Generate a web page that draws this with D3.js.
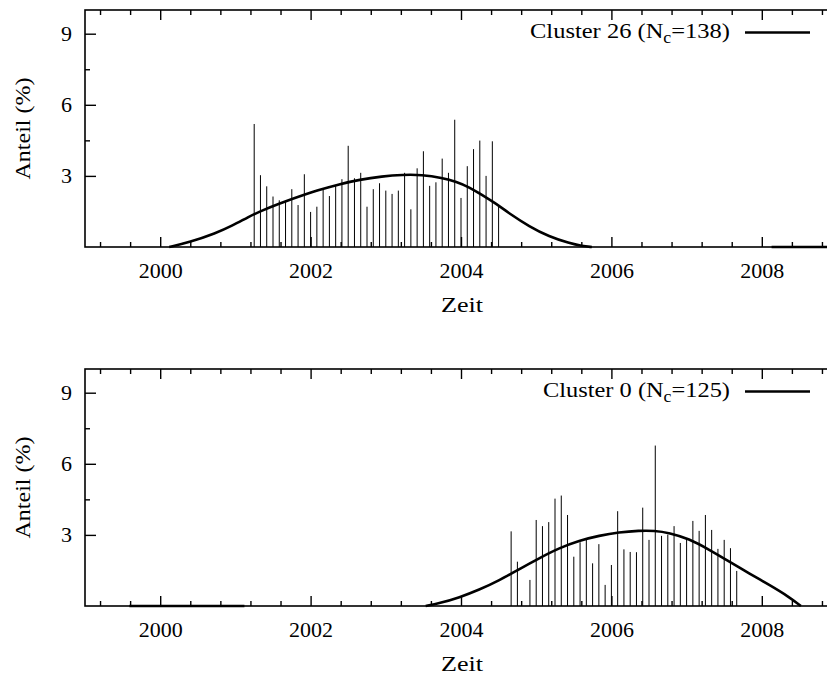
<!DOCTYPE html>
<html>
<head>
<meta charset="utf-8">
<script src="https://cdn.jsdelivr.net/npm/d3@7"></script>
<style>
  body { margin: 0; background: #fff; }
  svg { display: block; }
  text { font-family: "Liberation Serif", "Times New Roman", serif; fill: #000; }
  .tick text { font-size: 22px; }
  .tick line { stroke: #000; stroke-width: 1.4; }
</style>
</head>
<body>
<div id="chart"></div>
<script>
// monthly shares, top panel starts Apr 2001, bottom panel starts Sep 2004
var topStart = 2001.25;
var topValues = [5.19, 3.03, 2.56, 2.13, 1.97, 1.96, 2.44, 1.77, 3.07, 1.48,
                 1.70, 2.44, 2.15, 2.58, 2.86, 4.27, 2.90, 3.13, 1.70, 2.44,
                 2.69, 2.38, 2.24, 2.38, 3.13, 1.59, 3.32, 4.04, 2.58, 2.73,
                 3.73, 3.13, 5.37, 2.07, 3.41, 4.13, 4.49, 3.00, 4.46, 1.69];
var bottomStart = 2004 + 8 / 12;
var bottomValues = [3.15, 1.87, 0, 1.10, 3.63, 3.37, 3.54, 4.53, 4.66, 3.84,
                    2.08, 2.69, 2.82, 1.80, 2.61, 0.89, 1.73, 4.00, 2.39, 2.28,
                    2.27, 4.15, 2.79, 6.77, 2.96, 3.01, 3.37, 2.66, 2.79, 3.59,
                    3.17, 3.84, 3.21, 2.41, 2.79, 2.44, 1.48];

// smoothed curves [year, value]
var topCurve = [[2000.12, 0], [2000.12, 0], [2000.39, 0.2], [2000.74, 0.58], [2000.96, 0.9],
                [2001.18, 1.28], [2001.32, 1.49], [2001.58, 1.83], [2001.85, 2.13],
                [2002.11, 2.41], [2002.38, 2.65], [2002.65, 2.84], [2002.95, 2.98],
                [2003.22, 3.05], [2003.48, 3.05], [2003.75, 2.92], [2003.94, 2.75],
                [2004.11, 2.52], [2004.28, 2.20], [2004.47, 1.82], [2004.64, 1.42],
                [2004.91, 0.86], [2005.17, 0.44], [2005.44, 0.16], [2005.61, 0.04],
                [2005.74, 0], [2005.74, 0]];
var topCurveTail = [[2008.13, 0], [2009, 0]];
var bottomCurve = [[2003.53, 0], [2003.53, 0], [2003.71, 0.11], [2003.98, 0.36], [2004.24, 0.68],
                   [2004.51, 1.08], [2004.77, 1.55], [2005.04, 2.02], [2005.31, 2.45],
                   [2005.57, 2.76], [2005.84, 2.97], [2006.10, 3.11], [2006.37, 3.18],
                   [2006.57, 3.18], [2006.77, 3.09], [2007.03, 2.84], [2007.30, 2.38],
                   [2007.57, 1.87], [2007.83, 1.38], [2008.10, 0.89], [2008.36, 0.39],
                   [2008.52, 0], [2008.52, 0]];
var bottomCurveTail = [[1999.59, 0], [2001.12, 0]];

var xTicks = [2000, 2002, 2004, 2006, 2008];
var yTicks = [3, 6, 9];
var yMinorTicks = [4.5, 7.5];

var width = 827, height = 675;
var margin = {left: 85, right: -10};

var svg = d3.select("#chart").append("svg")
    .attr("width", width)
    .attr("height", height);

var x = d3.scaleLinear()
    .domain([1999, 2009])
    .range([margin.left, width - margin.right]);

var xMinor = d3.range(1999.2, 2009, 0.4).filter(function(d) {
  return xTicks.every(function(t) { return Math.abs(t - d) > 0.01; });
});

function drawPanel(top, values, start, curve, tail, name, n) {
  var bottom = top + 237;
  var y = d3.scaleLinear().domain([0, 10]).range([bottom, top]);
  var g = svg.append("g");

  // impulses
  g.selectAll(".bar")
    .data(values)
    .enter().append("line")
      .attr("x1", function(d, i) { return x(start + i / 12); })
      .attr("x2", function(d, i) { return x(start + i / 12); })
      .attr("y1", y(0))
      .attr("y2", function(d) { return y(d); })
      .attr("stroke", "#000")
      .attr("stroke-width", 1);

  // smoothed line
  var line = d3.line()
      .x(function(d) { return x(d[0]); })
      .y(function(d) { return y(d[1]); })
      .curve(d3.curveBasis);
  [curve, tail].forEach(function(c) {
    g.append("path")
      .attr("d", line(c))
      .attr("fill", "none")
      .attr("stroke", "#000")
      .attr("stroke-width", 2.6);
  });

  // bottom axis, ticks pointing up
  g.append("g")
      .attr("transform", "translate(0," + bottom + ")")
      .call(d3.axisBottom(x).tickValues(xTicks).tickSize(-10).tickPadding(15).tickFormat(d3.format("d")))
      .call(function(a) { a.select(".domain").remove(); });
  g.append("g")
      .attr("transform", "translate(0," + bottom + ")")
      .call(d3.axisBottom(x).tickValues(xMinor).tickSize(-5).tickFormat(""))
      .call(function(a) { a.select(".domain").remove(); });

  // mirrored top ticks
  g.append("g")
      .attr("transform", "translate(0," + top + ")")
      .call(d3.axisTop(x).tickValues(xTicks).tickSize(-10).tickFormat(""))
      .call(function(a) { a.select(".domain").remove(); });
  g.append("g")
      .attr("transform", "translate(0," + top + ")")
      .call(d3.axisTop(x).tickValues(xMinor).tickSize(-5).tickFormat(""))
      .call(function(a) { a.select(".domain").remove(); });

  // left axis
  g.append("g")
      .attr("transform", "translate(" + margin.left + ",0)")
      .call(d3.axisLeft(y).tickValues(yTicks).tickSize(-11).tickPadding(13))
      .call(function(a) { a.select(".domain").remove(); });
  g.append("g")
      .attr("transform", "translate(" + margin.left + ",0)")
      .call(d3.axisLeft(y).tickValues(yMinorTicks).tickSize(-5).tickFormat(""))
      .call(function(a) { a.select(".domain").remove(); });

  g.selectAll(".tick text").attr("fill", "#000");

  // frame
  g.append("rect")
      .attr("x", margin.left)
      .attr("y", top)
      .attr("width", x(2009) - margin.left)
      .attr("height", bottom - top)
      .attr("fill", "none")
      .attr("stroke", "#000")
      .attr("stroke-width", 1.6);

  // axis titles
  g.append("text")
      .attr("x", 441)
      .attr("y", bottom + 65)
      .attr("font-size", 22)
      .attr("textLength", 42)
      .attr("lengthAdjust", "spacingAndGlyphs")
      .text("Zeit");
  g.append("text")
      .attr("transform", "translate(30," + ((top + bottom) / 2 + 51) + ") rotate(-90)")
      .attr("font-size", 22)
      .attr("textLength", 102)
      .attr("lengthAdjust", "spacingAndGlyphs")
      .text("Anteil (%)");

  // key
  var label = "Cluster " + name + " (N";
  var keyWidth = name === "26" ? 200 : 187;
  var key = g.append("text")
      .attr("x", 730 - keyWidth)
      .attr("y", top + 28)
      .attr("font-size", 22)
      .attr("textLength", keyWidth)
      .attr("lengthAdjust", "spacingAndGlyphs");
  key.append("tspan").text(label);
  key.append("tspan").attr("dy", 5).attr("font-size", 16).text("c");
  key.append("tspan").attr("dy", -5).text("=" + n + ")");
  g.append("line")
      .attr("x1", 745)
      .attr("x2", 810)
      .attr("y1", top + 22.5)
      .attr("y2", top + 22.5)
      .attr("stroke", "#000")
      .attr("stroke-width", 2.6);
}

drawPanel(10, topValues, topStart, topCurve, topCurveTail, "26", 138);
drawPanel(369, bottomValues, bottomStart, bottomCurve, bottomCurveTail, "0", 125);
</script>
</body>
</html>
